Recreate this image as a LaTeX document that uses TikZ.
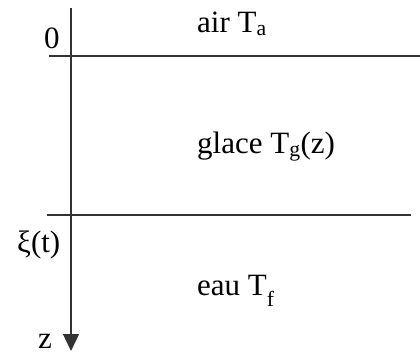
\documentclass[tikz,border=0pt]{standalone}
\usepackage{fontspec}
\setmainfont{Liberation Serif}
\usetikzlibrary{arrows.meta}
\definecolor{layerink}{HTML}{333333}

\begin{document}
\begin{tikzpicture}[x=1pt,y=-1pt,
    layerline/.style={layerink,line width=1.4pt},
    layerlabel/.style={anchor=base west,inner sep=0pt,font=\fontsize{31}{35}\selectfont}]
    \path[use as bounding box] (0,0) rectangle (420,360);

    % Depth axis pointing downwards.
    \coordinate (axistop) at (71,8);
    \coordinate (axisend) at (71,351);
    \draw[layerline,-{Triangle[width=16pt,length=17pt]}] (axistop) -- (axisend);

    % Surface and ice-water interface.
    \coordinate (surfleft) at (49,56);
    \coordinate (surfright) at (420,56);
    \coordinate (frontleft) at (47,215);
    \coordinate (frontright) at (411,215);
    \draw[layerline] (surfleft) -- (surfright);
    \draw[layerline] (frontleft) -- (frontright);

    % Labels of the layers and of the axis.
    \node[layerlabel] (zero) at (44,48) {0};
    \node[layerlabel] (front) at (17,252) {ξ(t)};
    \node[layerlabel] (depth) at (38,348) {z};
    \node[layerlabel] (air) at (197,32) {air T\textsubscript{a}};
    \node[layerlabel] (ice) at (197,153) {glace T\textsubscript{g}(z)};
    \node[layerlabel] (water) at (197,295) {eau T\raisebox{-0.35ex}{\textsubscript{f}}};
  \end{tikzpicture}
\end{document}
